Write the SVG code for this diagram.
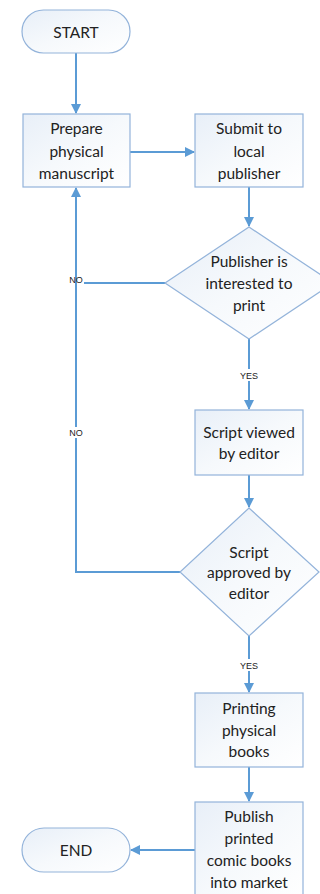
<svg xmlns="http://www.w3.org/2000/svg" width="320" height="894" viewBox="0 0 320 894">
<defs>
<linearGradient id="g" x1="0" y1="0" x2="1" y2="1">
<stop offset="0" stop-color="#e8eff8"/>
<stop offset="0.5" stop-color="#f6f9fc"/>
<stop offset="1" stop-color="#ffffff"/>
</linearGradient>
<marker id="ah" markerWidth="10" markerHeight="10" refX="9" refY="5" orient="auto" markerUnits="userSpaceOnUse">
<path d="M0,0 L10,5 L0,10 Z" fill="#5b9bd5"/>
</marker>
<style>
.n{fill:url(#g);stroke:#93b3da;stroke-width:1.2}
.t{font-family:Lato,"Open Sans",sans-serif;font-size:15.5px;fill:#222;text-anchor:middle}
.l{font-family:"Liberation Sans",Arial,sans-serif;font-size:9px;fill:#222;text-anchor:middle}
.c{fill:none;stroke:#5b9bd5;stroke-width:2}
.a{marker-end:url(#ah)}
</style>
</defs>
<rect width="320" height="894" fill="#ffffff"/>
<g id="connectors">
<path class="c a" d="M76,53 V113"/>
<path class="c a" d="M130,152 H194"/>
<path class="c a" d="M249,187 V226"/>
<path class="c" d="M165,283 H84"/>
<path class="c a" d="M249,339 V409"/>
<path class="c a" d="M249,475 V507"/>
<path class="c a" d="M180,572 H76 V188"/>
<path class="c a" d="M249,636 V692"/>
<path class="c a" d="M249,767 V801"/>
<path class="c a" d="M195,850 H131"/>
<rect x="234" y="369" width="30" height="12" fill="#ffffff"/>
<text class="l" x="249" y="378.5">YES</text>
<rect x="234" y="659" width="30" height="12" fill="#ffffff"/>
<text class="l" x="249" y="668.5">YES</text>
<text class="l" x="76" y="282.5">NO</text>
<rect x="66" y="427" width="20" height="11" fill="#ffffff"/>
<text class="l" x="76" y="435.5">NO</text>
</g>
<g id="start">
<rect class="n" x="22" y="10" width="108" height="43" rx="21.5"/>
<text class="t" x="76" y="37.5">START</text>
</g>
<g id="prepare">
<rect class="n" x="23" y="114" width="107" height="73"/>
<text class="t" x="76.5" y="133.5">Prepare</text>
<text class="t" x="76.5" y="156.5">physical</text>
<text class="t" x="76.5" y="178.5">manuscript</text>
</g>
<g id="submit">
<rect class="n" x="195" y="114" width="108" height="73"/>
<text class="t" x="249" y="133.5">Submit to</text>
<text class="t" x="249" y="156.5">local</text>
<text class="t" x="249" y="178.5">publisher</text>
</g>
<g id="interested">
<polygon class="n" points="249,227 333,283 249,339 165,283"/>
<text class="t" x="249" y="266.5">Publisher is</text>
<text class="t" x="249" y="288.5">interested to</text>
<text class="t" x="249" y="310.5">print</text>
</g>
<g id="viewed">
<rect class="n" x="195" y="410" width="108" height="65"/>
<text class="t" x="249" y="437.5">Script viewed</text>
<text class="t" x="249" y="458.5">by editor</text>
</g>
<g id="approved">
<polygon class="n" points="249,508 319,572 249,636 180,572"/>
<text class="t" x="249" y="557.5">Script</text>
<text class="t" x="249" y="577.5">approved by</text>
<text class="t" x="249" y="598.5">editor</text>
</g>
<g id="printing">
<rect class="n" x="195" y="693" width="108" height="74"/>
<text class="t" x="249" y="713.5">Printing</text>
<text class="t" x="249" y="735.5">physical</text>
<text class="t" x="249" y="756.5">books</text>
</g>
<g id="publish">
<rect class="n" x="195" y="802" width="108" height="100"/>
<text class="t" x="249" y="821.5">Publish</text>
<text class="t" x="249" y="843.5">printed</text>
<text class="t" x="249" y="865.5">comic books</text>
<text class="t" x="249" y="887.5">into market</text>
</g>
<g id="end">
<rect class="n" x="22" y="828" width="108" height="44" rx="22"/>
<text class="t" x="76" y="855.5">END</text>
</g>
</svg>
